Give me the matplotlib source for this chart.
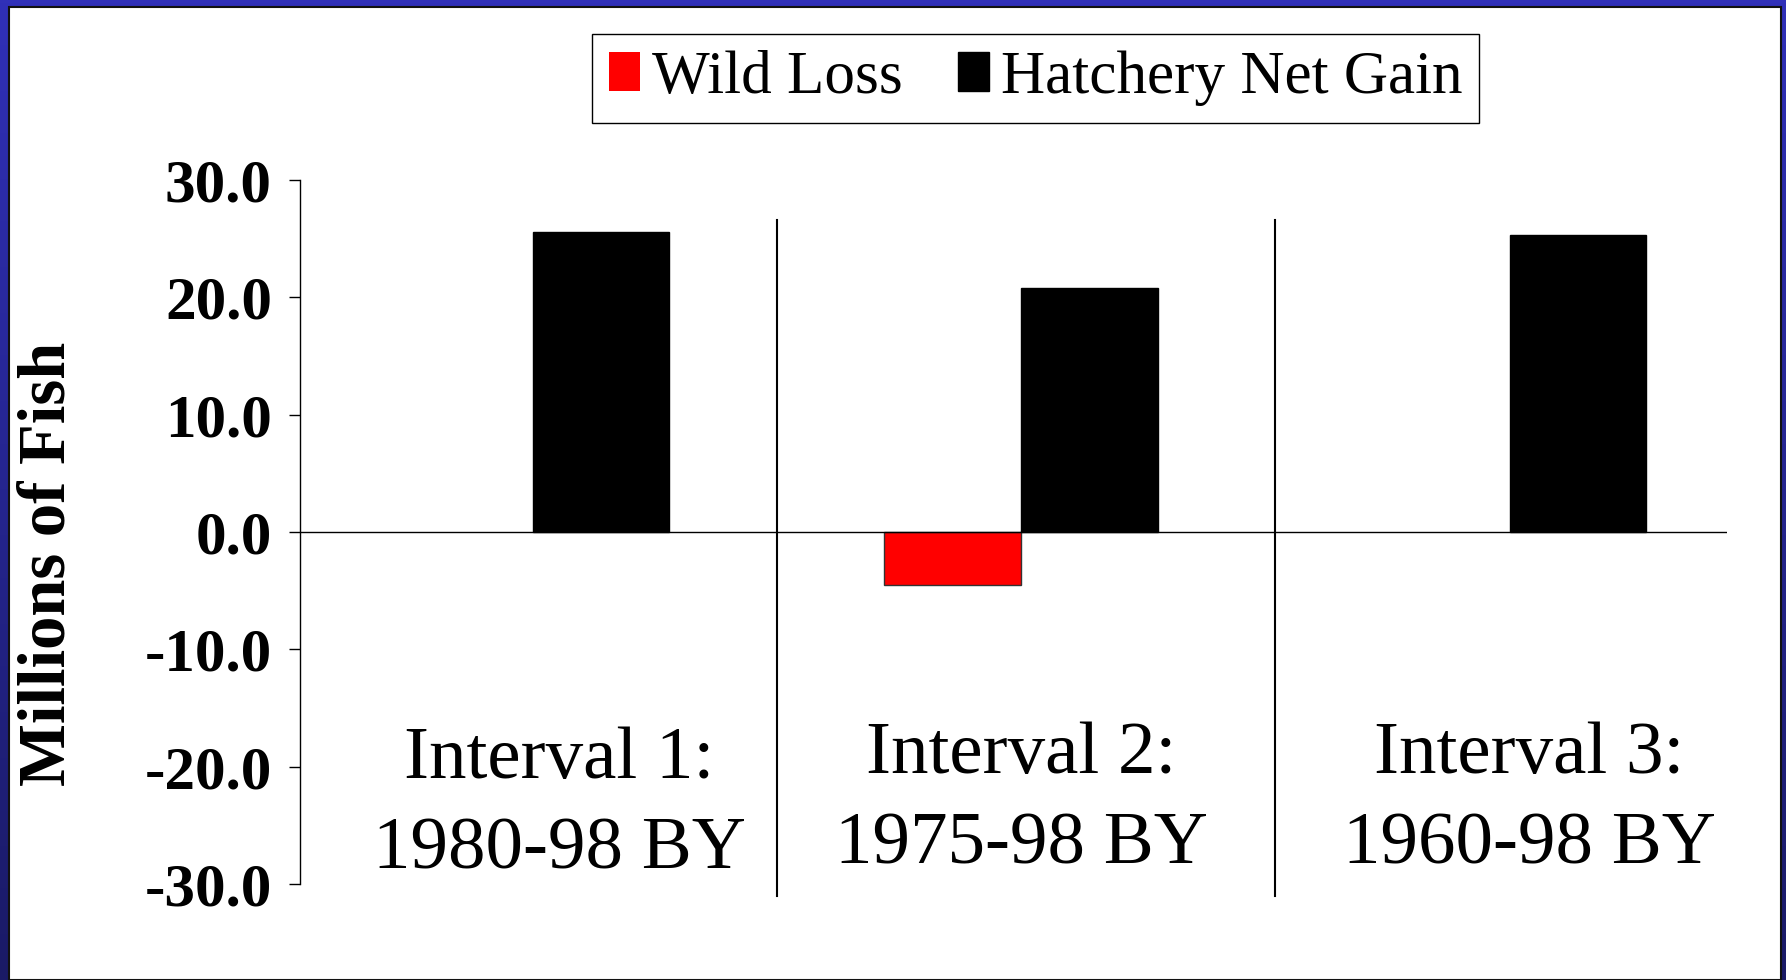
import numpy as np
import matplotlib
matplotlib.use('Agg')
import matplotlib.pyplot as plt
from matplotlib.patches import Rectangle

plt.rcParams['font.family'] = ['Liberation Serif', 'DejaVu Serif']

# data
intervals = ['Interval 1:\n1980-98 BY', 'Interval 2:\n1975-98 BY', 'Interval 3:\n1960-98 BY']
wild_loss = [0.0, -4.5, 0.0]
hatchery_gain = [25.6, 20.8, 25.3]
yticks = [-30, -20, -10, 0, 10, 20, 30]

fig = plt.figure(figsize=(17.86, 9.80), dpi=100)

# blue slide frame with gradient
bg = fig.add_axes([0, 0, 1, 1], zorder=-2)
grad = np.linspace(0, 1, 256).reshape(-1, 1)
cmap = matplotlib.colors.LinearSegmentedColormap.from_list('frame', ['#3030b8', '#1a1a66'])
bg.imshow(grad, aspect='auto', cmap=cmap, extent=[0, 1, 0, 1])
bg.add_patch(Rectangle((9 / 1786, 0), (1781 - 9) / 1786, 973 / 980,
                       facecolor='white', edgecolor='#111111', linewidth=1.5))
bg.set_xlim(0, 1)
bg.set_ylim(0, 1)
bg.axis('off')

ax = fig.add_axes([0.1678, 0.098, 0.7992, 0.7183])
ax.patch.set_alpha(0)

x = np.arange(len(intervals))
w = 0.28
ax.bar(x - w / 2, wild_loss, w, color='#ff0000', edgecolor='#333333',
       linewidth=[1 if v != 0 else 0 for v in wild_loss], label='Wild Loss')
ax.bar(x + w / 2, hatchery_gain, w, color='black', edgecolor='black',
       linewidth=[1 if v != 0 else 0 for v in hatchery_gain], label='Hatchery Net Gain')

ax.axhline(0, color='black', linewidth=1)
for sep in [0.5, 1.52]:
    ax.plot([sep, sep], [-31.0, 26.6], color='black', linewidth=1.5, clip_on=False)

ax.set_xlim(-0.477, 2.445)
ax.set_ylim(-30, 30)
ax.set_yticks(yticks)
ax.set_yticklabels(['%.1f' % v for v in yticks], fontsize=44, fontweight='bold')
ax.tick_params(axis='y', direction='out', length=8, width=1, pad=12)
ax.set_xticks([])
for s in ['top', 'right', 'bottom']:
    ax.spines[s].set_visible(False)
ax.spines['left'].set_linewidth(1)

label_x = [0.055, 1.0, 2.04]
label_y = [-23.3, -22.9, -22.9]
for i, lab in enumerate(intervals):
    ax.text(label_x[i], label_y[i], lab, ha='center', va='center', fontsize=54,
            linespacing=1.45)

fig.text(0.027, 0.425, 'Millions of Fish', rotation=90, ha='center', va='center',
         fontsize=48, fontweight='bold')

leg = fig.legend(loc='center', bbox_to_anchor=(0.58, 0.92), ncol=2, fontsize=44,
                 frameon=True, fancybox=False, edgecolor='black', framealpha=1,
                 handlelength=0.5, handleheight=0.6, handletextpad=0.2,
                 columnspacing=0.9, borderpad=0.28)
leg.get_frame().set_linewidth(1)

fig.savefig('out.png', dpi=100)
